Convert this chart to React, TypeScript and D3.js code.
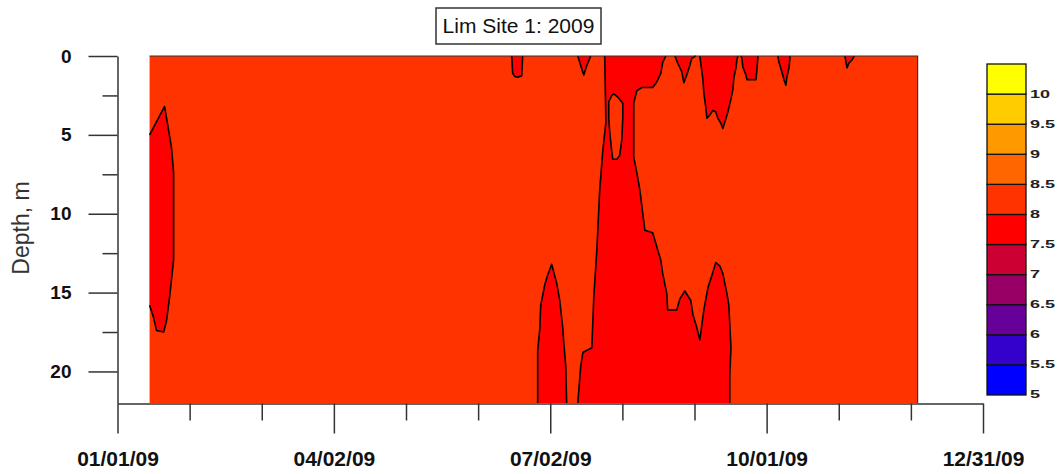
import React, { useEffect, useRef } from 'react';
import * as d3 from 'd3';

// positions along x are days after 01/01/09, depths in m
const surveyStart = 13.5;
const surveyEnd = 336.5;
const depthMax = 22;

const levels = [5, 5.5, 6, 6.5, 7, 7.5, 8, 8.5, 9, 9.5, 10];
const levelColors = ['#0000FF', '#3300CC', '#660099', '#990066', '#CC0033', '#FF0000', '#FF3300', '#FF6600', '#FF9900', '#FFCC00', '#FFFF00'];

const xTickLabels = ['01/01/09', '04/02/09', '07/02/09', '10/01/09', '12/31/09'];
const yTicks = [0, 5, 10, 15, 20];
const yMinorTicks = [2.5, 7.5, 12.5, 17.5];

// most of the section sits in the 8 - 8.5 band, the closed areas below are 7.5 - 8
const baseLevel = 8;
const lowLevel = 7.5;

const janLobe = [[13.5, 5.0], [19.8, 3.2], [20.6, 3.9], [22.7, 5.8], [23.6, 7.4], [23.6, 12.9], [22.7, 14.2], [21.9, 15.3], [20.6, 16.8], [19.4, 17.5], [16.4, 17.4], [15.2, 16.6], [13.5, 15.8]];
const juneDip = [[165.8, 0], [166.2, 1.1], [167.1, 1.3], [168.3, 1.35], [170.0, 1.25], [170.4, 0]];
const julyDip = [[193.6, 0], [194.8, 0.6], [196.1, 1.2], [197.4, 0.6], [199.0, 0]];
const julyBottom = [[176.7, 22], [176.7, 18.7], [177.6, 17.3], [178.0, 15.8], [178.8, 15.2], [179.7, 14.5], [180.9, 13.9], [182.6, 13.2], [183.5, 13.7], [184.7, 14.4], [186.0, 15.5], [186.8, 16.6], [187.3, 17.3], [187.7, 18.2], [188.5, 19.6], [188.9, 22]];
const summerLeft = [[204.9, 0], [205.4, 4.2], [204.1, 6.0], [202.8, 8.5], [202.0, 11.0], [201.6, 12.3], [200.3, 15.3], [199.5, 18.5], [195.7, 18.8], [194.8, 19.7], [194.0, 21.2], [193.6, 22]];
const summerRight = [[230.6, 0], [229.3, 0.4], [228.5, 1.1], [226.8, 1.65], [225.1, 2.0], [220.5, 2.0], [218.4, 2.2], [217.1, 3.0], [217.1, 6.4], [218.4, 7.4], [219.7, 8.5], [221.8, 11.05], [225.1, 11.2], [227.2, 12.3], [228.5, 12.95], [229.3, 13.8], [231.0, 15.05], [231.4, 16.1], [235.2, 16.1], [236.5, 15.4], [238.6, 14.9], [241.1, 15.5], [242.0, 16.4], [243.6, 17.2], [244.9, 18.0], [246.6, 16.1], [248.3, 14.7], [250.0, 13.9], [251.6, 13.1], [253.3, 13.3], [254.6, 13.8], [256.3, 15.05], [257.1, 15.8], [258.0, 18.5], [257.5, 20.25], [257.5, 22]];
const augIsland = [[208.7, 2.4], [210.4, 2.6], [212.5, 3.0], [212.5, 3.9], [212.1, 5.3], [211.2, 6.3], [210.0, 6.55], [208.3, 6.55], [207.9, 6.1], [207.0, 4.8], [206.6, 3.9], [206.6, 2.9], [207.9, 2.5]];
const augDip = [[234.4, 0], [235.6, 0.45], [237.3, 1.0], [238.2, 1.7], [239.4, 1.2], [240.7, 0.6], [241.5, 0.15], [243.2, 0]];
const septDip = [[244.9, 0], [245.3, 0.45], [246.2, 1.5], [246.6, 2.35], [247.4, 3.25], [247.9, 3.95], [249.1, 3.75], [250.4, 3.45], [251.6, 3.55], [252.5, 3.95], [253.7, 4.25], [254.6, 4.6], [255.4, 4.2], [256.7, 3.55], [257.9, 2.8], [258.8, 2.15], [259.2, 1.4], [260.1, 0.75], [260.5, 0.25], [260.9, 0]];
const septDip2 = [[262.2, 0], [262.6, 0.15], [263.0, 0.7], [264.3, 1.2], [264.7, 1.5], [268.5, 1.5], [268.9, 0.9], [269.3, 0.15], [269.3, 0]];
const octDip = [[277.7, 0], [278.2, 0.4], [279.4, 1.0], [280.3, 1.5], [281.1, 1.85], [281.5, 1.35], [282.4, 0.75], [282.8, 0.15], [282.8, 0]];
const novDip = [[305.9, 0], [306.4, 0.4], [306.8, 0.75], [307.6, 0.45], [308.9, 0.25], [309.7, 0.05], [309.7, 0]];

const lowRegions = [janLobe, juneDip, julyDip, julyBottom, augDip, septDip, septDip2, octDip, novDip];

const font = 'Liberation Sans, Arial, sans-serif';

const App = () => {
  const svgRef = useRef<SVGSVGElement>(null);

  useEffect(() => {
    const svg = d3.select(svgRef.current);
    svg.selectAll('*').remove();

    const parse = d3.utcParse('%m/%d/%y');
    const tickDates = xTickLabels.map((s) => parse(s) as Date);
    const t0 = tickDates[0].getTime();
    const dayToDate = (d: number) => new Date(t0 + d * 864e5);

    const x = d3.scaleUtc().domain([tickDates[0], tickDates[tickDates.length - 1]]).range([117.5, 983]);
    const y = d3.scaleLinear().domain([0, depthMax]).range([56, 403]);
    const color = d3.scaleThreshold<number, string>().domain(levels.slice(1)).range(levelColors);

    const line = d3.line<number[]>()
      .x((d) => x(dayToDate(d[0])))
      .y((d) => y(d[1]));

    const plot = svg.append('g');

    plot.append('rect')
      .attr('x', x(dayToDate(surveyStart)))
      .attr('y', y(0))
      .attr('width', x(dayToDate(surveyEnd)) - x(dayToDate(surveyStart)))
      .attr('height', y(depthMax) - y(0))
      .attr('fill', color(baseLevel));

    plot.selectAll('.low')
      .data(lowRegions)
      .join('path')
      .attr('class', 'low')
      .attr('d', (d) => line(d) + 'Z')
      .attr('fill', color(lowLevel));

    plot.append('path')
      .attr('d', line([...summerLeft, ...summerRight.slice().reverse()]) + 'Z')
      .attr('fill', color(lowLevel));

    plot.append('path')
      .attr('d', line(augIsland) + 'Z')
      .attr('fill', color(baseLevel));

    // contour lines
    plot.selectAll('.contour')
      .data([...lowRegions, summerLeft, summerRight])
      .join('path')
      .attr('class', 'contour')
      .attr('d', (d) => line(d))
      .attr('fill', 'none')
      .attr('stroke', '#000')
      .attr('stroke-width', 1.6)
      .attr('stroke-linejoin', 'round');

    plot.append('path')
      .attr('d', line(augIsland) + 'Z')
      .attr('fill', 'none')
      .attr('stroke', '#000')
      .attr('stroke-width', 1.6);

    plot.append('path')
      .attr('d', line([[surveyStart, 0], [surveyEnd, 0], [surveyEnd, depthMax]]))
      .attr('fill', 'none')
      .attr('stroke', '#333')
      .attr('stroke-width', 1.2);

    // axes
    const yAxis = d3.axisLeft(y).tickValues(yTicks).tickSize(29).tickSizeOuter(0).tickPadding(17);
    const gy = svg.append('g').attr('transform', 'translate(117.5,0)').call(yAxis);
    gy.selectAll('text').attr('font-size', 19).attr('font-weight', 'bold').attr('font-family', font).attr('fill', '#111');

    const yMinor = d3.axisLeft(y).tickValues(yMinorTicks).tickSize(15).tickFormat(() => '');
    const gym = svg.append('g').attr('transform', 'translate(117.5,0)').call(yMinor);
    gym.select('.domain').remove();

    const xAxis = d3.axisBottom(x).tickValues(tickDates).tickSize(30).tickSizeOuter(0).tickPadding(18)
      .tickFormat((d) => d3.utcFormat('%m/%d/%y')(d as Date));
    const gx = svg.append('g').attr('transform', 'translate(0,403.5)').call(xAxis);
    gx.selectAll('text').attr('font-size', 21).attr('font-weight', 'bold').attr('font-family', font).attr('fill', '#111');

    const minorDates = d3.range(1, 12).filter((i) => i % 3 !== 0).map((i) => dayToDate((i * 364) / 12));
    const xMinor = d3.axisBottom(x).tickValues(minorDates).tickSize(17).tickFormat(() => '');
    const gxm = svg.append('g').attr('transform', 'translate(0,403.5)').call(xMinor);
    gxm.select('.domain').remove();

    svg.selectAll('.domain, .tick line').attr('stroke', '#333').attr('stroke-width', 1.5);

    svg.append('text')
      .attr('transform', 'translate(29,228) rotate(-90)')
      .attr('text-anchor', 'middle')
      .attr('font-family', font)
      .attr('font-size', 23)
      .attr('fill', '#333')
      .text('Depth, m');

    // title
    svg.append('rect')
      .attr('x', 436).attr('y', 8).attr('width', 165).attr('height', 36)
      .attr('fill', '#fff').attr('stroke', '#333').attr('stroke-width', 1.5);
    svg.append('text')
      .attr('x', 518.5).attr('y', 33)
      .attr('text-anchor', 'middle')
      .attr('font-family', font)
      .attr('font-size', 21)
      .attr('fill', '#111')
      .text('Lim Site 1: 2009');

    // colour legend
    const ly = d3.scaleLinear().domain([levels[0], levels[levels.length - 1] + 0.5]).range([395, 64]);
    const legend = svg.append('g');
    legend.selectAll('rect')
      .data(levels)
      .join('rect')
      .attr('x', 987)
      .attr('y', (d) => ly(d + 0.5))
      .attr('width', 39)
      .attr('height', (d) => ly(d) - ly(d + 0.5))
      .attr('fill', (d) => color(d))
      .attr('stroke', '#111')
      .attr('stroke-width', 1.3);
    legend.selectAll('text')
      .data(levels)
      .join('text')
      .attr('transform', (d) => `translate(1030,${ly(d)}) scale(1.8,1)`)
      .attr('dominant-baseline', 'central')
      .attr('font-family', font)
      .attr('font-size', 10)
      .attr('font-weight', 'bold')
      .attr('fill', '#222')
      .text((d) => String(d));
  }, []);

  return (
    <svg ref={svgRef} width={1064} height={474} style={{ position: 'absolute', left: 0, top: 0, background: '#fff' }} />
  );
};

export default App;
